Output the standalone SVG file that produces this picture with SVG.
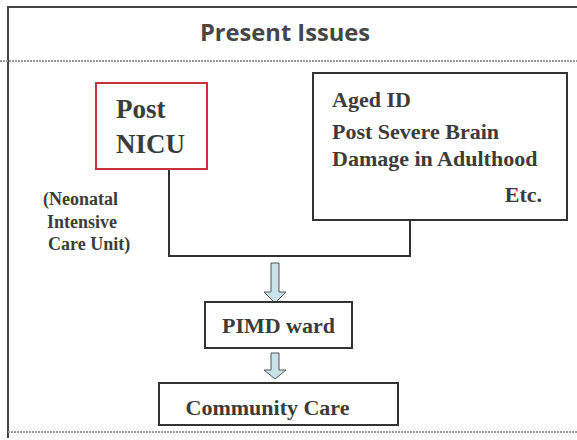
<svg xmlns="http://www.w3.org/2000/svg" width="577" height="440" viewBox="0 0 577 440">
<defs>
<style>
.t{font-family:"Liberation Serif","Times New Roman",serif;font-weight:bold;fill:#3c3c3c}
.box{fill:#fff;stroke:#333;stroke-width:2}
.dot{stroke:#999;stroke-width:2;stroke-dasharray:2 1}
.arrow{fill:#c9e2ea;stroke:#555;stroke-width:1}
.conn{fill:none;stroke:#333;stroke-width:2}
</style>
</defs>
<rect width="577" height="440" fill="#fff"/>
<g id="frame">
<path d="M8,438 V7 H577" fill="none" stroke="#444" stroke-width="2"/>
<line class="dot" x1="0" y1="61" x2="577" y2="61"/>
<line class="dot" x1="8" y1="432" x2="577" y2="432"/>
<text x="285" y="41" text-anchor="middle" font-family="'Open Sans',Lato,sans-serif" font-weight="bold" font-size="24" fill="#464646" textLength="170" lengthAdjust="spacingAndGlyphs">Present Issues</text>
</g>
<g id="connectors">
<path class="conn" d="M169,169 V256 H410 V220"/>
<path class="arrow" d="M271,263 H279 V292 H286 L275,303 L264,292 H271 Z"/>
<path class="arrow" d="M271,353 H279 V370 H286 L275,379 L264,370 H271 Z"/>
</g>
<g id="post-nicu">
<rect x="96" y="83" width="111" height="86" fill="#fff" stroke="#c8323a" stroke-width="2"/>
<text class="t" x="116" y="118" font-size="27">Post</text>
<text class="t" x="116" y="153" font-size="27">NICU</text>
</g>
<g id="nicu-note">
<text class="t" font-size="18"><tspan x="43" y="205">(Neonatal</tspan><tspan x="47" y="228">Intensive</tspan><tspan x="48" y="250">Care Unit)</tspan></text>
</g>
<g id="other-issues">
<rect class="box" x="313" y="73" width="254" height="147"/>
<text class="t" font-size="22"><tspan x="332" y="107">Aged ID</tspan><tspan x="332" y="139">Post Severe Brain</tspan><tspan x="332" y="166">Damage in Adulthood</tspan></text>
<text class="t" x="542" y="202" font-size="22" text-anchor="end">Etc.</text>
</g>
<g id="pimd-ward">
<rect class="box" x="205" y="302" width="147" height="46"/>
<text class="t" x="278.5" y="333" font-size="22" text-anchor="middle">PIMD ward</text>
</g>
<g id="community-care">
<rect class="box" x="159" y="383" width="239" height="42"/>
<text class="t" x="267.5" y="415" font-size="22" text-anchor="middle">Community Care</text>
</g>
</svg>
